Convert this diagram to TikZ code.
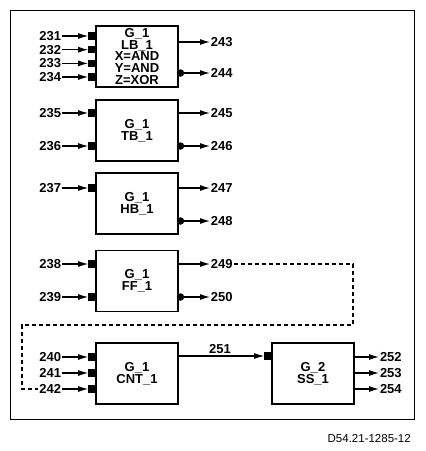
\documentclass[tikz,border=0pt]{standalone}
\usepackage{fontspec}
\setmainfont{Liberation Sans}
\usetikzlibrary{arrows.meta}
\begin{document}
\begin{tikzpicture}[x=1pt,y=-1pt,
  blk/.style={draw, line width=1.4pt, minimum width=82pt, minimum height=61pt, inner sep=0pt, align=center, font=\fontsize{13}{11.7}\selectfont\bfseries},
  insq/.style={fill, minimum width=7.5pt, minimum height=7.5pt, inner sep=0pt, anchor=east},
  outc/.style={fill, circle, minimum size=7.5pt, inner sep=0pt},
  inl/.style={anchor=east, inner sep=0.8pt, font=\fontsize{13}{13}\selectfont\bfseries},
  outl/.style={anchor=west, inner sep=0.8pt, font=\fontsize{13}{13}\selectfont\bfseries},
  arr/.style={line width=1.1pt, -{Latex[length=10pt,width=6pt]}},
  fb/.style={line width=1.3pt, dash pattern=on 4.5pt off 2.5pt}
]
\useasboundingbox (0,0) rectangle (426,451);
\draw[line width=0.9pt] (10,10) rectangle (414,419);

% blocks
\node[blk] (b1) at (137,56.5) {G\_1\\LB\_1\\X=AND\\Y=AND\\Z=XOR};
\node[blk] (b2) at (137,130.5) {G\_1\\TB\_1};
\node[blk] (b3) at (137,203.5) {G\_1\\HB\_1};
\node[blk] (b4) at (137,281) {G\_1\\FF\_1};
\node[blk] (b5) at (137,373.5) {G\_1\\CNT\_1};
\node[blk] (b6) at (313,373.5) {G\_2\\SS\_1};

% inputs
\foreach \n/\y/\b in {231/36/b1,232/49.7/b1,233/63.4/b1,234/77/b1,235/113/b2,236/146/b2,237/188/b3,238/264/b4,239/297/b4,240/357/b5,241/373/b5,242/389/b5}{
  \node[insq] (s\n) at (96,\y) {};
  \node[inl] (l\n) at (62,\y) {\n};
  \draw[arr] (l\n.east) -- (s\n.west);
}

% outputs without circle
\foreach \n/\y/\b in {243/42/b1,245/113/b2,247/188/b3,249/264/b4}{
  \node[outl] (l\n) at (210,\y) {\n};
  \draw[arr] (\b.east |- l\n) -- (l\n.west);
}
% outputs with circle
\foreach \n/\y/\b in {244/73/b1,246/146/b2,248/221/b3,250/297/b4}{
  \node[outc] (c\n) at (180.5,\y) {};
  \node[outl] (l\n) at (210,\y) {\n};
  \draw[arr] (c\n.center) -- (l\n.west);
}

% CNT to SS
\node[insq] (s251) at (272,356) {};
\draw[arr] (b5.east |- s251) -- (s251.west);
\node[font=\fontsize{13}{13}\selectfont\bfseries, inner sep=0pt] (l251) at (220,349.5) {251};

% SS outputs
\foreach \n/\y in {252/357,253/373,254/389}{
  \node[outl] (l\n) at (379,\y) {\n};
  \draw[arr] (b6.east |- l\n) -- (l\n.west);
}

% feedback dashed
\coordinate (d1) at (353,264);
\coordinate (d2) at (353,325);
\coordinate (d3) at (22,325);
\coordinate (d4) at (22,389);
\draw[fb] (l249.east) -- (d1) -- (d2) -- (d3) -- (d4) -- (l242.west);

\node[anchor=east, inner sep=0pt, font=\fontsize{11.5}{13}\selectfont] (ref) at (411,439) {D54.21-1285-12};
\end{tikzpicture}
\end{document}
